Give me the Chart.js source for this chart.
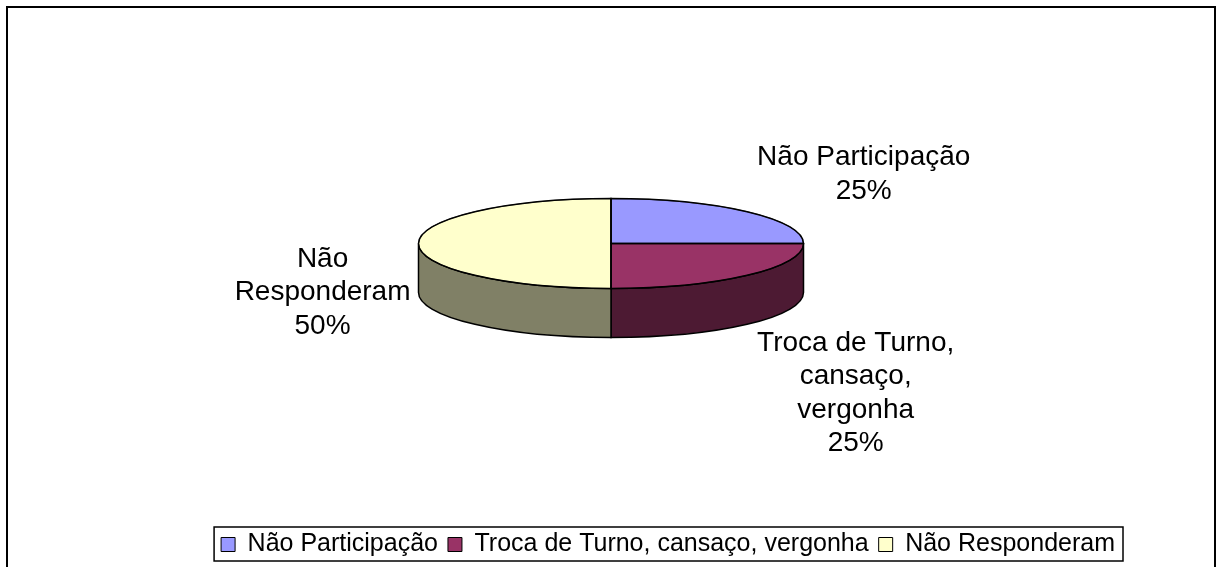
<!DOCTYPE html>
<html>
<head>
<meta charset="utf-8">
<script src="https://cdn.jsdelivr.net/npm/chart.js@4.4.1/dist/chart.umd.min.js"></script>
<style>
html, body { margin: 0; padding: 0; background: #fff; }
</style>
</head>
<body>
<canvas id="grafico" width="1217" height="567"></canvas>
<script>
// datos del grafico
var categorias = ['Não Participação', 'Troca de Turno, cansaço, vergonha', 'Não Responderam'];
var valores = [25, 25, 50];
var colores = ['#9999FF', '#993366', '#FFFFCC'];

// efecto 3d: relacion alto/ancho de la elipse y grosor del pastel
var inclinacion = 0.234;
var profundidad = 49;
var fuente = 'Liberation Sans, Arial, sans-serif';

// color de la pared lateral (mitad de brillo)
function oscurecer(hex) {
    var n = parseInt(hex.slice(1), 16);
    var r = Math.round(((n >> 16) & 255) / 2);
    var g = Math.round(((n >> 8) & 255) / 2);
    var b = Math.round((n & 255) / 2);
    return 'rgb(' + r + ',' + g + ',' + b + ')';
}

// partir el texto en lineas como lo hace excel
function partirTexto(ctx, texto, ancho) {
    var palabras = texto.split(' ');
    var lineas = [];
    var actual = '';
    palabras.forEach(function(p) {
        var prueba = actual ? actual + ' ' + p : p;
        if (actual && ctx.measureText(prueba).width > ancho) {
            lineas.push(actual);
            actual = p;
        } else {
            actual = prueba;
        }
    });
    if (actual) lineas.push(actual);
    return lineas;
}

var pastel3d = {
    id: 'pastel3d',
    beforeDraw: function(chart) {
        var ctx = chart.ctx;
        ctx.save();
        ctx.strokeStyle = '#000';
        ctx.lineWidth = 2;
        ctx.strokeRect(7, 7, 1208, 620);
        ctx.restore();
    },
    beforeDatasetsDraw: function(chart) {
        var ctx = chart.ctx;
        var arcos = chart.getDatasetMeta(0).data;
        var a0 = arcos[0];
        var cy = a0.y - profundidad / 2;
        var r = a0.outerRadius;
        var ry = r * inclinacion;

        // paredes del frente
        arcos.forEach(function(arc, i) {
            var s = Math.max(arc.startAngle, 0);
            var e = Math.min(arc.endAngle, Math.PI);
            if (s >= e) return;
            ctx.beginPath();
            ctx.ellipse(a0.x, cy, r, ry, 0, s, e);
            ctx.ellipse(a0.x, cy + profundidad, r, ry, 0, e, s, true);
            ctx.closePath();
            ctx.fillStyle = oscurecer(colores[i]);
            ctx.fill();
            ctx.lineWidth = 1.5;
            ctx.strokeStyle = '#000';
            ctx.stroke();
        });

        // aplastar la cara de arriba
        ctx.save();
        ctx.translate(0, cy);
        ctx.scale(1, inclinacion);
        ctx.translate(0, -a0.y);
    },
    afterDatasetsDraw: function(chart) {
        var ctx = chart.ctx;
        ctx.restore();
        var arcos = chart.getDatasetMeta(0).data;
        var a0 = arcos[0];
        var cx = a0.x;
        var cy = a0.y - profundidad / 2;
        var r = a0.outerRadius;
        var ry = r * inclinacion;

        // contorno de la cara de arriba
        ctx.save();
        ctx.lineWidth = 1.5;
        ctx.strokeStyle = '#000';
        arcos.forEach(function(arc) {
            ctx.beginPath();
            ctx.moveTo(cx, cy);
            ctx.ellipse(cx, cy, r, ry, 0, arc.startAngle, arc.endAngle);
            ctx.closePath();
            ctx.stroke();
        });

        // etiquetas
        var total = valores.reduce(function(a, b) { return a + b; }, 0);
        var alto = 33.5;
        ctx.font = '28px ' + fuente;
        ctx.fillStyle = '#000';
        ctx.textAlign = 'center';
        ctx.textBaseline = 'middle';
        arcos.forEach(function(arc, i) {
            var m = (arc.startAngle + arc.endAngle) / 2;
            var c = Math.cos(m), s = Math.sin(m);
            var ax = cx + r * c;
            var ay = cy + ry * s;
            var lineas = partirTexto(ctx, categorias[i], 221);
            lineas.push(Math.round(valores[i] / total * 100) + '%');
            var ancho = 0;
            lineas.forEach(function(l) { ancho = Math.max(ancho, ctx.measureText(l).width); });
            var altoBloque = lineas.length * alto;

            var x;
            if (c > 0.1) x = ax + 10 + ancho / 2;
            else if (c < -0.1) x = ax - 8 - ancho / 2;
            else x = ax;

            var y;
            if (s > 0.1) y = ay + profundidad + 2;
            else if (s < -0.1) y = ay - 4 - altoBloque;
            else y = ay + profundidad - altoBloque / 2;

            lineas.forEach(function(l, k) {
                ctx.fillText(l, x, y + alto * k + alto / 2);
            });
        });
        ctx.restore();
    },
    afterDraw: function(chart) {
        // cuadro de la leyenda
        var cajas = chart.legend.legendHitBoxes;
        if (!cajas || !cajas.length) return;
        var izq = cajas[0].left, der = 0, arriba = cajas[0].top, abajo = 0;
        cajas.forEach(function(b) {
            izq = Math.min(izq, b.left);
            der = Math.max(der, b.left + b.width);
            arriba = Math.min(arriba, b.top);
            abajo = Math.max(abajo, b.top + b.height);
        });
        var ctx = chart.ctx;
        ctx.save();
        ctx.strokeStyle = '#000';
        ctx.lineWidth = 1.5;
        ctx.strokeRect(izq - 7, arriba - 5, der - izq + 15, abajo - arriba + 9);
        ctx.restore();
    }
};

var ctx = document.getElementById('grafico').getContext('2d');
var grafico = new Chart(ctx, {
    type: 'pie',
    data: {
        labels: categorias,
        datasets: [{
            data: valores,
            backgroundColor: colores,
            borderColor: '#000',
            borderWidth: 1,
            clip: false
        }]
    },
    options: {
        responsive: false,
        animation: false,
        radius: 192.5,
        layout: {
            padding: { left: 97, right: 92, top: 14, bottom: 0 }
        },
        plugins: {
            legend: {
                position: 'bottom',
                align: 'end',
                labels: {
                    color: '#000',
                    font: { family: fuente, size: 25 },
                    boxWidth: 14,
                    boxHeight: 14,
                    padding: 10
                }
            },
            tooltip: { enabled: false }
        }
    },
    plugins: [pastel3d]
});
</script>
</body>
</html>
